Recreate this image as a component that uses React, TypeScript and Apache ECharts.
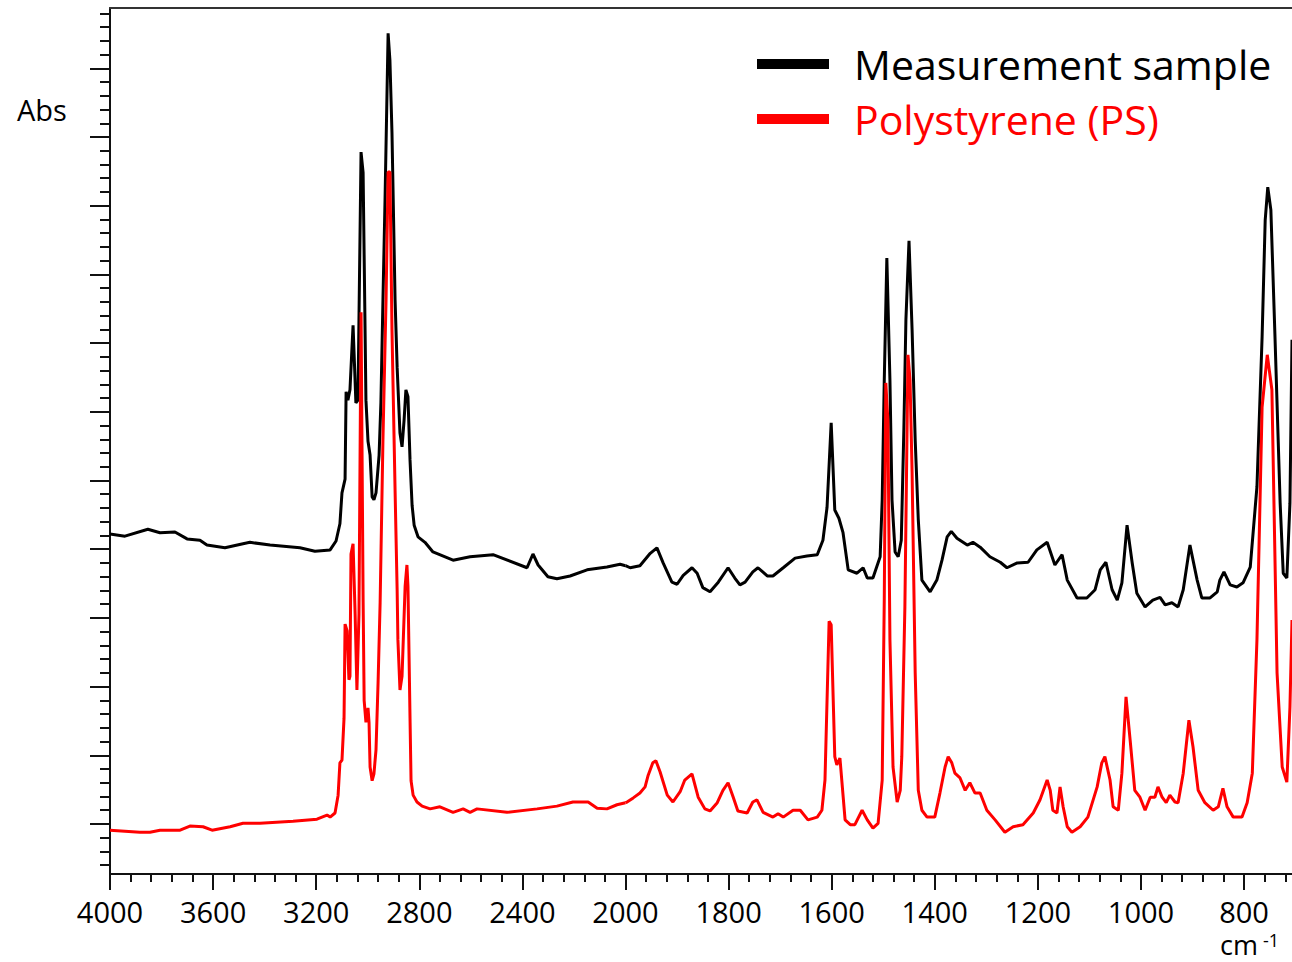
import React, { useEffect, useRef } from "react";
import * as echarts from "echarts";

// Measurement sample (black) – wavenumber (cm-1) and absorbance
const sampleWavenumbers = [
  4000, 3942, 3853, 3806, 3748, 3701, 3651, 3624, 3554, 3484, 3457, 3379, 3263, 3205, 3146, 3123,
  3108, 3100, 3088, 3084, 3077, 3069, 3057, 3046, 3038, 3026, 3018, 3007, 2999, 2991, 2983, 2976,
  2968, 2956, 2949, 2941, 2933, 2921, 2914, 2906, 2894, 2886, 2875, 2867, 2859, 2852, 2844, 2836,
  2828, 2820, 2805, 2778, 2747, 2669, 2603, 2514, 2382, 2359, 2339, 2301, 2266, 2215, 2149, 2072,
  2021, 2000, 1991, 1972, 1952, 1939, 1927, 1910, 1900, 1888, 1871, 1861, 1850, 1836, 1820, 1801,
  1788, 1778, 1768, 1753, 1743, 1725, 1714, 1694, 1671, 1648, 1628, 1617, 1609, 1601, 1594, 1586,
  1578, 1568, 1551, 1539, 1531, 1520, 1506, 1502, 1498, 1493, 1487, 1483, 1477, 1471, 1465, 1460,
  1456, 1450, 1444, 1438, 1432, 1425, 1409, 1396, 1386, 1376, 1368, 1357, 1337, 1326, 1312, 1293,
  1273, 1260, 1240, 1219, 1202, 1182, 1167, 1153, 1143, 1124, 1105, 1089, 1079, 1068, 1056, 1046,
  1037, 1027, 1017, 1008, 992, 977, 963, 953, 940, 928, 918, 905, 891, 882, 866, 852,
  847, 839, 827, 814, 802, 788, 775, 765, 759, 754, 748, 740, 730, 724, 717, 711, 707,
];
const sampleAbs = [
  0.422, 0.419, 0.429, 0.424, 0.425, 0.415, 0.413, 0.406, 0.402, 0.408, 0.41, 0.406, 0.402, 0.397, 0.399, 0.412,
  0.437, 0.482, 0.502, 0.629, 0.617, 0.632, 0.726, 0.613, 0.617, 0.978, 0.948, 0.617, 0.557, 0.537, 0.476, 0.472,
  0.482, 0.537, 0.613, 0.763, 0.908, 1.151, 1.112, 1.006, 0.763, 0.665, 0.569, 0.549, 0.588, 0.632, 0.622, 0.53,
  0.464, 0.435, 0.418, 0.41, 0.396, 0.384, 0.389, 0.392, 0.373, 0.393, 0.377, 0.36, 0.357, 0.361, 0.37, 0.374,
  0.378, 0.376, 0.373, 0.376, 0.394, 0.402, 0.38, 0.352, 0.349, 0.362, 0.373, 0.365, 0.344, 0.338, 0.352, 0.373,
  0.358, 0.348, 0.352, 0.367, 0.373, 0.361, 0.361, 0.373, 0.387, 0.39, 0.392, 0.413, 0.461, 0.584, 0.457, 0.445,
  0.424, 0.37, 0.365, 0.373, 0.358, 0.358, 0.389, 0.472, 0.646, 0.824, 0.646, 0.472, 0.396, 0.389, 0.413, 0.574,
  0.734, 0.849, 0.719, 0.559, 0.443, 0.355, 0.338, 0.355, 0.384, 0.418, 0.426, 0.416, 0.406, 0.41, 0.403, 0.389,
  0.381, 0.373, 0.38, 0.381, 0.399, 0.41, 0.377, 0.392, 0.355, 0.329, 0.329, 0.341, 0.37, 0.381, 0.341, 0.326,
  0.351, 0.435, 0.38, 0.336, 0.316, 0.326, 0.33, 0.319, 0.322, 0.316, 0.341, 0.406, 0.355, 0.329, 0.329, 0.338,
  0.355, 0.367, 0.348, 0.345, 0.351, 0.374, 0.491, 0.709, 0.879, 0.927, 0.894, 0.709, 0.467, 0.365, 0.358, 0.467, 0.705,
];

// Polystyrene reference (red)
const psWavenumbers = [
  4000, 3884, 3845, 3806, 3728, 3690, 3639, 3604, 3534, 3484, 3418, 3290, 3197, 3158, 3146, 3127,
  3115, 3108, 3100, 3092, 3088, 3080, 3073, 3069, 3065, 3057, 3049, 3042, 3034, 3026, 3018, 3014,
  3007, 2999, 2995, 2991, 2983, 2976, 2968, 2960, 2952, 2941, 2929, 2921, 2914, 2906, 2894, 2886,
  2883, 2875, 2867, 2855, 2848, 2844, 2836, 2832, 2824, 2809, 2789, 2758, 2720, 2669, 2630, 2603,
  2576, 2460, 2343, 2266, 2204, 2145, 2110, 2072, 2033, 2000, 1997, 1985, 1972, 1962, 1956, 1947,
  1941, 1933, 1919, 1908, 1894, 1885, 1871, 1859, 1846, 1836, 1822, 1811, 1801, 1791, 1782, 1764,
  1753, 1745, 1733, 1714, 1704, 1694, 1675, 1661, 1646, 1628, 1619, 1613, 1609, 1605, 1601, 1597,
  1594, 1590, 1584, 1574, 1564, 1555, 1541, 1531, 1520, 1510, 1502, 1498, 1495, 1491, 1487, 1481,
  1473, 1467, 1464, 1458, 1452, 1448, 1444, 1438, 1432, 1425, 1415, 1400, 1390, 1380, 1374, 1367,
  1361, 1351, 1341, 1332, 1322, 1312, 1299, 1283, 1264, 1248, 1229, 1209, 1196, 1182, 1176, 1171,
  1163, 1157, 1151, 1143, 1134, 1118, 1103, 1085, 1076, 1070, 1060, 1054, 1044, 1037, 1029, 1021,
  1012, 1002, 992, 982, 973, 967, 959, 951, 944, 934, 928, 918, 907, 899, 889, 876,
  860, 850, 841, 833, 821, 804, 794, 784, 775, 765, 755, 746, 736, 726, 717, 711, 707,
];
const psAbs = [
  -0.009, -0.012, -0.012, -0.009, -0.009, -0.003, -0.004, -0.009, -0.004, 0.001, 0.001, 0.004, 0.007, 0.013, 0.01, 0.016,
  0.042, 0.089, 0.093, 0.154, 0.291, 0.281, 0.21, 0.215, 0.393, 0.408, 0.306, 0.195, 0.306, 0.745, 0.326, 0.18,
  0.148, 0.169, 0.148, 0.083, 0.063, 0.073, 0.108, 0.205, 0.322, 0.56, 0.763, 0.949, 0.949, 0.719, 0.486, 0.341,
  0.268, 0.195, 0.215, 0.346, 0.377, 0.346, 0.154, 0.063, 0.042, 0.032, 0.026, 0.022, 0.025, 0.017, 0.022, 0.017,
  0.022, 0.017, 0.022, 0.026, 0.032, 0.032, 0.023, 0.022, 0.028, 0.031, 0.032, 0.038, 0.045, 0.054, 0.071, 0.089,
  0.092, 0.076, 0.042, 0.032, 0.047, 0.064, 0.073, 0.039, 0.022, 0.019, 0.031, 0.049, 0.06, 0.039, 0.019, 0.016,
  0.032, 0.035, 0.017, 0.01, 0.015, 0.01, 0.02, 0.02, 0.006, 0.01, 0.02, 0.064, 0.18, 0.295, 0.29, 0.18,
  0.098, 0.086, 0.096, 0.006, -0.001, -0.001, 0.02, 0.006, -0.006, 0.001, 0.064, 0.326, 0.642, 0.588, 0.268, 0.083,
  0.032, 0.049, 0.098, 0.316, 0.683, 0.646, 0.511, 0.22, 0.049, 0.02, 0.01, 0.01, 0.045, 0.083, 0.098, 0.089,
  0.074, 0.067, 0.049, 0.06, 0.045, 0.045, 0.02, 0.006, -0.012, -0.004, -0.001, 0.016, 0.035, 0.064, 0.049, 0.02,
  0.016, 0.054, 0.025, -0.004, -0.012, -0.004, 0.01, 0.054, 0.089, 0.098, 0.064, 0.025, 0.02, 0.074, 0.185, 0.122,
  0.049, 0.039, 0.02, 0.039, 0.039, 0.054, 0.039, 0.031, 0.042, 0.032, 0.031, 0.074, 0.151, 0.112, 0.049, 0.031,
  0.02, 0.025, 0.052, 0.025, 0.01, 0.01, 0.031, 0.074, 0.268, 0.607, 0.683, 0.632, 0.22, 0.083, 0.061, 0.17, 0.297,
];

// Axis ticks
const xMajorHigh = [2000, 2400, 2800, 3200, 3600, 4000];
const xMajorLow = [800, 1000, 1200, 1400, 1600, 1800, 2000];
const xLabelsLow = [800, 1000, 1200, 1400, 1600, 1800];
const yMajor = [0, 0.1, 0.2, 0.3, 0.4, 0.5, 0.6, 0.7, 0.8, 0.9, 1.0, 1.1];

const X_SPLIT = 2000;
const X_MIN = 707;
const X_MAX = 4000;
const Y_MIN = -0.0728;
const Y_MAX = 1.1878;

function minorTicks(from: number, to: number, step: number, major: number): number[] {
  const out: number[] = [];
  const n = Math.round((to - from) / step);
  for (let i = 0; i <= n; i++) {
    const v = Math.round((from + i * step) * 1000) / 1000;
    const r = Math.abs(v / major - Math.round(v / major));
    if (r > 1e-6) out.push(v);
  }
  return out;
}

const xMinorHigh = minorTicks(2000, 4000, 80, 400);
const xMinorLow = minorTicks(720, 2000, 40, 200);
const yMinor = minorTicks(-0.06, 1.18, 0.02, 0.1);

const FONT = "'Open Sans', 'Noto Sans', sans-serif";
const AXIS_COLOR = "#111";

function pairs(wn: number[], ab: number[], high: boolean): number[][] {
  const out: number[][] = [];
  wn.forEach((w, i) => {
    if (high ? w >= X_SPLIT : w <= X_SPLIT) out.push([w, ab[i]]);
  });
  return out;
}

export default function App() {
  const ref = useRef<HTMLDivElement>(null);
  useEffect(() => {
    if (!ref.current) return;
    const chart = echarts.init(ref.current, undefined, { renderer: "svg" });

    const lineStyle = { color: AXIS_COLOR, width: 2 };
    const labelStyle = {
      fontSize: 29,
      lineHeight: 30,
      fontFamily: FONT,
      color: "#000",
      margin: 22,
      formatter: (v: number) => String(v),
    };
    const noLine = { show: false, onZero: false };
    const xBase = (grid: number, high: boolean) => ({
      gridIndex: grid,
      type: "value",
      min: high ? X_SPLIT : X_MIN,
      max: high ? X_MAX : X_SPLIT,
      inverse: true,
      splitLine: { show: false },
    });

    const option: any = {
      animation: false,
      backgroundColor: "#ffffff",
      grid: [
        { left: 110, top: 8, width: 515.5, bottom: 88 },
        { left: 625.5, top: 8, right: 0, bottom: 88 },
      ],
      xAxis: [
        {
          ...xBase(0, true), position: "bottom",
          axisLine: { show: true, onZero: false, lineStyle },
          axisTick: { show: true, customValues: xMajorHigh, length: 16, lineStyle },
          axisLabel: { ...labelStyle, customValues: xMajorHigh },
        },
        {
          ...xBase(0, true), position: "bottom",
          axisLine: noLine,
          axisTick: { show: true, customValues: xMinorHigh, length: 8, lineStyle },
          axisLabel: { show: false },
        },
        {
          ...xBase(1, false), position: "bottom",
          axisLine: { show: true, onZero: false, lineStyle },
          axisTick: { show: true, customValues: xMajorLow, length: 16, lineStyle },
          axisLabel: { ...labelStyle, customValues: xLabelsLow },
        },
        {
          ...xBase(1, false), position: "bottom",
          axisLine: noLine,
          axisTick: { show: true, customValues: xMinorLow, length: 8, lineStyle },
          axisLabel: { show: false },
        },
        {
          ...xBase(0, true), position: "top",
          axisLine: { show: true, onZero: false, lineStyle: { color: "#333", width: 2 } },
          axisTick: { show: false },
          axisLabel: { show: false },
        },
        {
          ...xBase(1, false), position: "top",
          axisLine: { show: true, onZero: false, lineStyle: { color: "#333", width: 2 } },
          axisTick: { show: false },
          axisLabel: { show: false },
        },
      ],
      yAxis: [
        {
          gridIndex: 0, type: "value", position: "left", min: Y_MIN, max: Y_MAX,
          axisLine: { show: true, onZero: false, lineStyle },
          axisTick: { show: true, customValues: yMajor, length: 20, lineStyle },
          axisLabel: { show: false },
          splitLine: { show: false },
        },
        {
          gridIndex: 0, type: "value", position: "left", min: Y_MIN, max: Y_MAX,
          axisLine: noLine,
          axisTick: { show: true, customValues: yMinor, length: 10, lineStyle },
          axisLabel: { show: false },
          splitLine: { show: false },
        },
        {
          gridIndex: 1, type: "value", min: Y_MIN, max: Y_MAX,
          axisLine: noLine, axisTick: { show: false }, axisLabel: { show: false },
          splitLine: { show: false },
        },
      ],
      legend: {
        orient: "vertical",
        left: 757,
        top: 41,
        padding: 0,
        icon: "rect",
        itemWidth: 72,
        itemHeight: 10,
        itemGap: 9,
        selectedMode: false,
        textStyle: { fontSize: 41, fontFamily: FONT, lineHeight: 46, padding: [0, 0, 0, 20] },
        data: [
          { name: "Measurement sample", textStyle: { color: "#000000" } },
          { name: "Polystyrene (PS)", textStyle: { color: "#ff0000" } },
        ],
      },
      graphic: [
        {
          type: "text", left: 17, top: 95,
          style: { text: "Abs", fontSize: 29, fontFamily: FONT, fill: "#000" },
        },
        {
          type: "text", x: 1220, y: 931,
          style: { text: "cm", fontSize: 27, fontFamily: FONT, fill: "#000" },
        },
        {
          type: "text", x: 1263, y: 931,
          style: { text: "-1", fontSize: 18, fontFamily: FONT, fill: "#000" },
        },
      ],
      series: [
        {
          name: "Measurement sample", type: "line", xAxisIndex: 0, yAxisIndex: 0,
          data: pairs(sampleWavenumbers, sampleAbs, true),
          showSymbol: false, symbol: "none", color: "#000000",
          lineStyle: { color: "#000000", width: 3 }, z: 2,
        },
        {
          name: "Measurement sample", type: "line", xAxisIndex: 2, yAxisIndex: 2,
          data: pairs(sampleWavenumbers, sampleAbs, false),
          showSymbol: false, symbol: "none", color: "#000000",
          lineStyle: { color: "#000000", width: 3 }, z: 2,
        },
        {
          name: "Polystyrene (PS)", type: "line", xAxisIndex: 0, yAxisIndex: 0,
          data: pairs(psWavenumbers, psAbs, true),
          showSymbol: false, symbol: "none", color: "#ff0000",
          lineStyle: { color: "#ff0000", width: 3 }, z: 3,
        },
        {
          name: "Polystyrene (PS)", type: "line", xAxisIndex: 2, yAxisIndex: 2,
          data: pairs(psWavenumbers, psAbs, false),
          showSymbol: false, symbol: "none", color: "#ff0000",
          lineStyle: { color: "#ff0000", width: 3 }, z: 3,
        },
      ],
    };
    chart.setOption(option);
    return () => chart.dispose();
  }, []);

  return (
    <div
      ref={ref}
      style={{ position: "absolute", left: 0, top: 0, width: 1292, height: 962, background: "#fff" }}
    />
  );
}
